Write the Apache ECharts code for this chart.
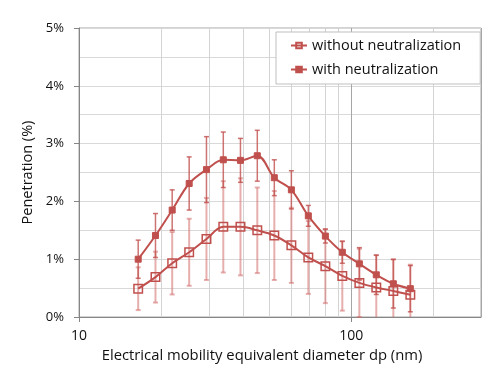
<!DOCTYPE html>
<html>
<head>
<meta charset="utf-8">
<script src="https://cdn.jsdelivr.net/npm/echarts@6/dist/echarts.min.js"></script>
<style>html,body{margin:0;padding:0;background:#fff}#c{width:500px;height:376px}</style>
</head>
<body>
<div id="c"></div>
<script>
// Particle diameter (nm)
const diameters = [16.5, 19.1, 22.0, 25.4, 29.4, 33.9, 39.2, 45.2, 52.2, 60.3, 69.6, 80.4, 92.8, 107.2, 123.7, 142.9, 165.0];
// Penetration (%) without neutralization and its error (+/-)
const withoutNeut = [0.49, 0.69, 0.93, 1.12, 1.35, 1.56, 1.56, 1.50, 1.41, 1.24, 1.03, 0.88, 0.71, 0.59, 0.51, 0.45, 0.385];
const withoutErr  = [0.37, 0.44, 0.54, 0.58, 0.71, 0.79, 0.84, 0.74, 0.77, 0.65, 0.63, 0.64, 0.60, 0.59, 0.56, 0.55, 0.52];
// Penetration (%) with neutralization and its error (+/-)
const withNeut = [1.00, 1.41, 1.85, 2.31, 2.55, 2.72, 2.71, 2.79, 2.41, 2.20, 1.75, 1.40, 1.12, 0.92, 0.73, 0.575, 0.49];
const withErr  = [0.33, 0.38, 0.35, 0.46, 0.57, 0.48, 0.38, 0.44, 0.31, 0.33, 0.18, 0.12, 0.19, 0.28, 0.34, 0.42, 0.40];
// Minor log grid lines on x
const xMinorGrid = [20, 30, 40, 50, 60, 70, 80, 90, 200];
const xTickLabels = [10, 100];
const seriesNames = ['without neutralization', 'with neutralization'];

const RED = '#C0504D';
const FONT = 'Open Sans';

function pairs(xs, ys) { return xs.map((x, i) => [x, ys[i]]); }
function triples(xs, ys, es) { return xs.map((x, i) => [x, ys[i], es[i]]); }

function errRender(color, width) {
  return function (params, api) {
    const x = api.value(0), y = api.value(1), e = api.value(2);
    let lo = y - e, clipped = false;
    if (lo < 0) { lo = 0; clipped = true; }
    const top = api.coord([x, y + e]);
    const bot = api.coord([x, lo]);
    const cw = 2.5;
    const style = { stroke: color, lineWidth: width, fill: null };
    const children = [
      { type: 'line', shape: { x1: top[0], y1: top[1], x2: bot[0], y2: bot[1] }, style },
      { type: 'line', shape: { x1: top[0] - cw, y1: top[1], x2: top[0] + cw, y2: top[1] }, style }
    ];
    if (!clipped) children.push({ type: 'line', shape: { x1: bot[0] - cw, y1: bot[1], x2: bot[0] + cw, y2: bot[1] }, style });
    return { type: 'group', children };
  };
}

const chart = echarts.init(document.getElementById('c'), null, { renderer: 'canvas' });
chart.setOption({
  animation: false,
  textStyle: { fontFamily: FONT },
  grid: { left: 79, top: 28, width: 402, height: 289, show: true, borderColor: '#a6a6a6', borderWidth: 1 },
  legend: {
    data: seriesNames,
    orient: 'vertical',
    left: 276, top: 32,
    padding: [6, 19, 7, 14],
    itemGap: 9,
    itemWidth: 16, itemHeight: 7,
    backgroundColor: '#fff',
    borderColor: '#bfbfbf', borderWidth: 1,
    z: 10,
    textStyle: { fontFamily: FONT, fontSize: 14.5, color: '#111' }
  },
  xAxis: {
    type: 'log', logBase: 10, min: 10, max: 300,
    name: 'Electrical mobility equivalent diameter dp (nm)',
    nameLocation: 'middle', nameGap: 28,
    nameTextStyle: { fontFamily: FONT, fontSize: 14.8, color: '#111', padding: [0, 36, 0, 0] },
    axisLine: { lineStyle: { color: '#868686', width: 1 } },
    axisTick: { show: true, length: 5, lineStyle: { color: '#868686' } },
    axisLabel: {
      fontFamily: FONT, fontSize: 14, color: '#111', margin: 12, showMaxLabel: false,
      formatter: v => (xTickLabels.indexOf(Math.round(v)) >= 0 ? String(Math.round(v)) : '')
    },
    splitLine: { show: true, lineStyle: { color: '#a6a6a6', width: 1 } },
    minorTick: { show: false },
    minorSplitLine: { show: false }
  },
  yAxis: {
    type: 'value', min: 0, max: 5, interval: 1,
    name: 'Penetration (%)',
    nameLocation: 'middle', nameGap: 38, nameRotate: 90,
    nameTextStyle: { fontFamily: FONT, fontSize: 14.5, color: '#111' },
    axisLine: { show: true, lineStyle: { color: '#868686', width: 1 } },
    axisTick: { show: true, length: 5, lineStyle: { color: '#868686' } },
    axisLabel: { fontFamily: FONT, fontSize: 13, color: '#111', margin: 15, formatter: '{value}%' },
    splitLine: { show: true, lineStyle: { color: '#d9d9d9', width: 1 } },
    minorTick: { show: false, splitNumber: 2 },
    minorSplitLine: { show: true, lineStyle: { color: '#d9d9d9', width: 1 } }
  },
  series: [
    {
      type: 'custom', name: 'errWithout', z: 1, silent: true,
      renderItem: errRender('rgba(210,110,108,0.55)', 2),
      data: triples(diameters, withoutNeut, withoutErr),
      markLine: {
        silent: true, symbol: 'none', label: { show: false }, z: 0,
        lineStyle: { color: '#d4d4d4', type: 'solid', width: 1 },
        data: xMinorGrid.map(v => ({ xAxis: v }))
      }
    },
    {
      type: 'custom', name: 'errWith', z: 1, silent: true,
      renderItem: errRender('rgba(192,80,77,0.8)', 1.5),
      data: triples(diameters, withNeut, withErr)
    },
    {
      type: 'line', name: seriesNames[0], z: 3,
      data: pairs(diameters, withoutNeut),
      smooth: 0.35,
      symbol: 'rect', symbolSize: 8.5,
      lineStyle: { color: RED, width: 2 },
      itemStyle: { color: 'rgba(255,255,255,0)', borderColor: RED, borderWidth: 1.5 }
    },
    {
      type: 'line', name: seriesNames[1], z: 3,
      data: pairs(diameters, withNeut),
      smooth: 0.35,
      symbol: 'rect', symbolSize: 6,
      lineStyle: { color: RED, width: 2 },
      itemStyle: { color: RED, borderColor: RED, borderWidth: 1 }
    }
  ]
});
</script>
</body>
</html>
